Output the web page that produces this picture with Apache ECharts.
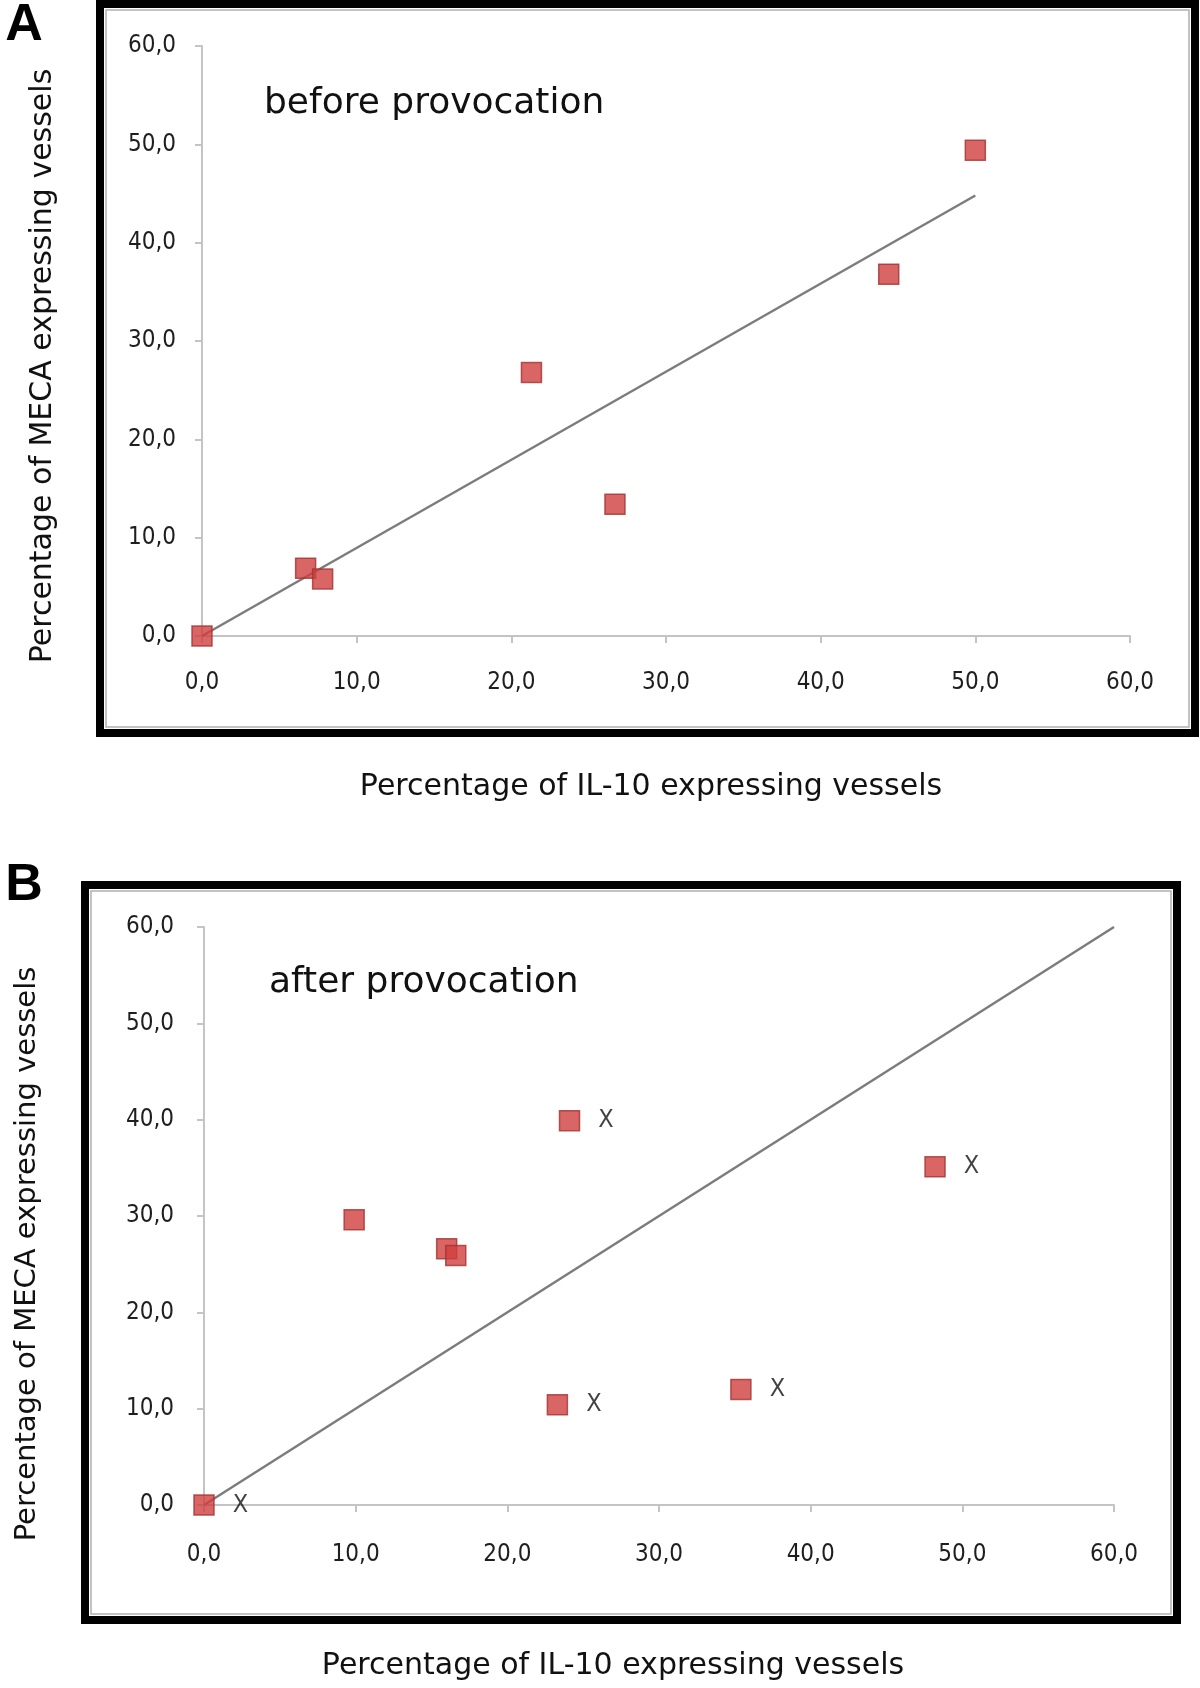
<!DOCTYPE html>
<html>
<head>
<meta charset="utf-8">
<script src="https://cdn.jsdelivr.net/npm/echarts@6/dist/echarts.min.js"></script>
<style>
  html, body { margin: 0; padding: 0; background: #fff; }
  #chart { width: 1200px; height: 1688px; }
</style>
</head>
<body>
<div id="chart"></div>
<script>
// panel A - before provocation
const aIL10 = [0, 6.7, 7.8, 21.3, 26.7, 44.4, 50.0]
const aMECA = [0, 6.9, 5.8, 26.8, 13.4, 36.8, 49.4]
const aTrendX = [0, 50]
const aTrendY = [0, 44.8]

// panel B - after provocation
const bIL10 = [0, 9.9, 16.0, 16.6, 24.1, 23.3, 35.4, 48.2]
const bMECA = [0, 29.6, 26.6, 25.9, 39.9, 10.4, 12.0, 35.1]
const bMark = ['X', '', '', '', 'X', 'X', 'X', 'X']
const bTrendX = [0, 60]
const bTrendY = [0, 60]

const ticks = [0, 60, 10] // min, max, interval

const zip = (xs, ys) => xs.map((x, i) => [x, ys[i]])
const fmt = v => v.toFixed(1).replace('.', ',')

const axisCommon = {
  type: 'value',
  min: ticks[0],
  max: ticks[1],
  interval: ticks[2],
  splitLine: { show: false },
  axisLine: { show: true, onZero: false, lineStyle: { color: '#c4c4c4', width: 2 } },
  axisTick: { show: true, length: 7, lineStyle: { color: '#c4c4c4', width: 2 } },
  axisLabel: {
    formatter: fmt,
    color: '#1e1e1e',
    fontSize: 24,
    fontFamily: 'DejaVu Sans Condensed, DejaVu Sans, sans-serif'
  }
}
const withMargin = (m) => Object.assign({}, axisCommon.axisLabel, { margin: m })

const markerStyle = { color: '#cf3f3f', borderColor: '#a33232', borderWidth: 1.5 }
const trendStyle = { color: '#7c7c7c', width: 2.5 }

const txt = (x, y, text, size, extra) => ({
  type: 'text', x: x, y: y, silent: true,
  style: Object.assign({
    text: text, fill: '#111', fontSize: size,
    fontFamily: 'DejaVu Sans, sans-serif',
    textAlign: 'center', textVerticalAlign: 'middle'
  }, extra || {})
})

const chart = echarts.init(document.getElementById('chart'), null, { renderer: 'canvas' })
chart.setOption({
  backgroundColor: '#fff',
  animation: false,
  grid: [
    { left: 202, top: 46, width: 928, height: 590 },
    { left: 204, top: 927, width: 910, height: 578 }
  ],
  xAxis: [
    Object.assign({}, axisCommon, { gridIndex: 0, axisLabel: withMargin(35) }),
    Object.assign({}, axisCommon, { gridIndex: 1, axisLabel: withMargin(38) })
  ],
  yAxis: [
    Object.assign({}, axisCommon, { gridIndex: 0, axisLabel: withMargin(26) }),
    Object.assign({}, axisCommon, { gridIndex: 1, axisLabel: withMargin(30) })
  ],
  series: [
    {
      type: 'line', xAxisIndex: 0, yAxisIndex: 0, silent: true,
      data: zip(aTrendX, aTrendY), symbol: 'none', lineStyle: trendStyle, z: 2
    },
    {
      type: 'scatter', xAxisIndex: 0, yAxisIndex: 0,
      data: zip(aIL10, aMECA), symbol: 'rect', symbolSize: 20,
      itemStyle: markerStyle, z: 3
    },
    {
      type: 'line', xAxisIndex: 1, yAxisIndex: 1, silent: true,
      data: zip(bTrendX, bTrendY), symbol: 'none', lineStyle: trendStyle, z: 2
    },
    {
      type: 'scatter', xAxisIndex: 1, yAxisIndex: 1,
      data: zip(bIL10, bMECA), symbol: 'rect', symbolSize: 20,
      itemStyle: markerStyle, z: 3,
      label: {
        show: true, position: 'right', distance: 18,
        formatter: p => bMark[p.dataIndex],
        color: '#111', fontSize: 25,
        fontFamily: 'DejaVu Sans Condensed, sans-serif'
      }
    }
  ],
  graphic: [
    // frames
    { type: 'rect', silent: true, shape: { x: 100, y: 4, width: 1095, height: 729 },
      style: { fill: 'none', stroke: '#000', lineWidth: 8 } },
    { type: 'rect', silent: true, shape: { x: 106, y: 10, width: 1083, height: 717 },
      style: { fill: 'none', stroke: '#b0b0b0', lineWidth: 1.5 } },
    { type: 'rect', silent: true, shape: { x: 85, y: 885, width: 1092, height: 735 },
      style: { fill: 'none', stroke: '#000', lineWidth: 8 } },
    { type: 'rect', silent: true, shape: { x: 91, y: 891, width: 1080, height: 723 },
      style: { fill: 'none', stroke: '#b0b0b0', lineWidth: 1.5 } },
    // panel letters
    txt(24, 26, 'A', 52, { fontWeight: 'bold', fontFamily: 'Liberation Sans, sans-serif', fill: '#000' }),
    txt(24, 886, 'B', 52, { fontWeight: 'bold', fontFamily: 'Liberation Sans, sans-serif', fill: '#000' }),
    // in-plot titles
    txt(264, 104, 'before provocation', 36, { textAlign: 'left' }),
    txt(269, 983, 'after provocation', 36, { textAlign: 'left' }),
    // axis names
    txt(651, 787, 'Percentage of IL-10 expressing vessels', 30),
    txt(613, 1666, 'Percentage of IL-10 expressing vessels', 30),
    Object.assign(txt(43, 366, 'Percentage of MECA expressing vessels', 30), { rotation: Math.PI / 2 }),
    Object.assign(txt(27, 1254, 'Percentage of MECA expressing vessels', 29), { rotation: Math.PI / 2 })
  ]
})
</script>
</body>
</html>
